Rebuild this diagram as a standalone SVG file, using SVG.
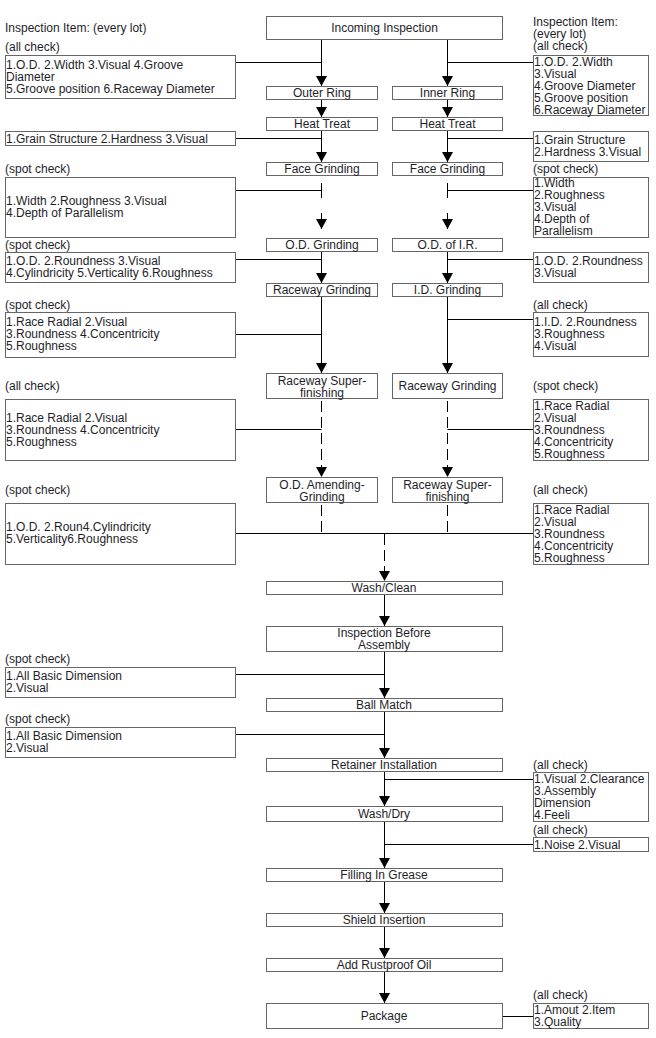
<svg xmlns="http://www.w3.org/2000/svg" width="656" height="1038" viewBox="0 0 656 1038">
<style>
.bx{fill:#fff;stroke:#666;stroke-width:1}
.t{font-family:"Liberation Sans",Arial,sans-serif;font-size:12px;fill:#1e1e2a}
.c{text-anchor:middle}
.ln{stroke:#000;stroke-width:1;fill:none}
.ds{stroke-dasharray:11 5}
</style>
<defs>
<marker id="ah" markerUnits="userSpaceOnUse" markerWidth="10" markerHeight="11" viewBox="0 0 10 11" refX="10" refY="5.5" orient="auto">
<path d="M0,0 L10,5.5 L0,11 Z" fill="#000"/>
</marker>
</defs>
<rect width="656" height="1038" fill="#fff"/>

<g id="connectors">
<!-- left column -->
<path class="ln" d="M321.5,39 V86" marker-end="url(#ah)"/>
<path class="ln" d="M235,62.5 H321.5"/>
<path class="ln" d="M321.5,99 V117" marker-end="url(#ah)"/>
<path class="ln" d="M321.5,130 V162" marker-end="url(#ah)"/>
<path class="ln" d="M235,138.5 H321.5"/>
<path class="ln" d="M321.5,183 V198"/>
<path class="ln" d="M235,190.5 H321.5"/>
<path class="ln" d="M321.5,213 V229" marker-end="url(#ah)"/>
<path class="ln" d="M321.5,251 V283" marker-end="url(#ah)"/>
<path class="ln" d="M235,259.5 H321.5"/>
<path class="ln" d="M321.5,296 V373" marker-end="url(#ah)"/>
<path class="ln" d="M235,334.5 H321.5"/>
<path class="ln ds" d="M321.5,398 V477" style="stroke-dashoffset:13" marker-end="url(#ah)"/>
<path class="ln" d="M235,429.5 H321.5"/>
<path class="ln ds" d="M321.5,502 V533" style="stroke-dashoffset:13"/>
<!-- right column -->
<path class="ln" d="M447.5,39 V86" marker-end="url(#ah)"/>
<path class="ln" d="M447.5,62.5 H533"/>
<path class="ln" d="M447.5,99 V117" marker-end="url(#ah)"/>
<path class="ln" d="M447.5,130 V162" marker-end="url(#ah)"/>
<path class="ln" d="M447.5,138.5 H533"/>
<path class="ln" d="M447.5,183 V198"/>
<path class="ln" d="M447.5,190.5 H533"/>
<path class="ln" d="M447.5,213 V229" marker-end="url(#ah)"/>
<path class="ln" d="M447.5,251 V283" marker-end="url(#ah)"/>
<path class="ln" d="M447.5,259.5 H533"/>
<path class="ln" d="M447.5,296 V373" marker-end="url(#ah)"/>
<path class="ln" d="M447.5,319.5 H533"/>
<path class="ln ds" d="M447.5,398 V477" style="stroke-dashoffset:13" marker-end="url(#ah)"/>
<path class="ln" d="M447.5,429.5 H533"/>
<path class="ln ds" d="M447.5,502 V533" style="stroke-dashoffset:13"/>
<!-- merge -->
<path class="ln" d="M235,533.5 H533"/>
<path class="ln ds" d="M384.5,534 V581" style="stroke-dashoffset:0" marker-end="url(#ah)"/>
<path class="ln" d="M384.5,594 V626" marker-end="url(#ah)"/>
<path class="ln" d="M384.5,651 V698" marker-end="url(#ah)"/>
<path class="ln" d="M235,674.5 H384.5"/>
<path class="ln" d="M384.5,711 V758" marker-end="url(#ah)"/>
<path class="ln" d="M235,734.5 H384.5"/>
<path class="ln" d="M384.5,771 V806" marker-end="url(#ah)"/>
<path class="ln" d="M384.5,779.5 H533"/>
<path class="ln" d="M384.5,821 V868" marker-end="url(#ah)"/>
<path class="ln" d="M384.5,844.5 H533"/>
<path class="ln" d="M384.5,881 V913" marker-end="url(#ah)"/>
<path class="ln" d="M384.5,926 V958" marker-end="url(#ah)"/>
<path class="ln" d="M384.5,971 V1003" marker-end="url(#ah)"/>
<path class="ln" d="M502,1016.5 H533"/>
</g>

<!-- process nodes -->
<g id="incoming"><rect class="bx" x="266.5" y="16.5" width="236" height="23"/><text class="t c" x="384.5" y="32">Incoming Inspection</text></g>
<g id="outer-ring"><rect class="bx" x="266.5" y="86.5" width="111" height="13"/><text class="t c" x="322" y="97">Outer Ring</text></g>
<g id="inner-ring"><rect class="bx" x="392.5" y="86.5" width="110" height="13"/><text class="t c" x="447.5" y="97">Inner Ring</text></g>
<g id="heat-treat-l"><rect class="bx" x="266.5" y="117.5" width="111" height="13"/><text class="t c" x="322" y="128">Heat Treat</text></g>
<g id="heat-treat-r"><rect class="bx" x="392.5" y="117.5" width="110" height="13"/><text class="t c" x="447.5" y="128">Heat Treat</text></g>
<g id="face-grinding-l"><rect class="bx" x="266.5" y="162.5" width="111" height="13"/><text class="t c" x="322" y="173">Face Grinding</text></g>
<g id="face-grinding-r"><rect class="bx" x="392.5" y="162.5" width="110" height="13"/><text class="t c" x="447.5" y="173">Face Grinding</text></g>
<g id="od-grinding"><rect class="bx" x="266.5" y="238.5" width="111" height="13"/><text class="t c" x="322" y="249">O.D. Grinding</text></g>
<g id="od-of-ir"><rect class="bx" x="392.5" y="238.5" width="110" height="13"/><text class="t c" x="447.5" y="249">O.D. of I.R.</text></g>
<g id="raceway-grinding-l"><rect class="bx" x="266.5" y="283.5" width="111" height="13"/><text class="t c" x="322" y="294">Raceway Grinding</text></g>
<g id="id-grinding"><rect class="bx" x="392.5" y="283.5" width="110" height="13"/><text class="t c" x="447.5" y="294">I.D. Grinding</text></g>
<g id="raceway-super-l"><rect class="bx" x="266.5" y="373.5" width="111" height="25"/><text class="t c" x="322" y="384.5">Raceway Super-</text><text class="t c" x="322" y="396.5">finishing</text></g>
<g id="raceway-grinding-r"><rect class="bx" x="392.5" y="373.5" width="110" height="25"/><text class="t c" x="447.5" y="390">Raceway Grinding</text></g>
<g id="od-amending"><rect class="bx" x="266.5" y="477.5" width="111" height="25"/><text class="t c" x="322" y="488.5">O.D. Amending-</text><text class="t c" x="322" y="500.5">Grinding</text></g>
<g id="raceway-super-r"><rect class="bx" x="392.5" y="477.5" width="110" height="25"/><text class="t c" x="447.5" y="488.5">Raceway Super-</text><text class="t c" x="447.5" y="500.5">finishing</text></g>
<g id="wash-clean"><rect class="bx" x="266.5" y="581.5" width="236" height="13"/><text class="t c" x="384" y="592">Wash/Clean</text></g>
<g id="inspection-before"><rect class="bx" x="266.5" y="626.5" width="236" height="25"/><text class="t c" x="384" y="637">Inspection Before</text><text class="t c" x="384" y="649">Assembly</text></g>
<g id="ball-match"><rect class="bx" x="266.5" y="698.5" width="236" height="13"/><text class="t c" x="384" y="709">Ball Match</text></g>
<g id="retainer"><rect class="bx" x="266.5" y="758.5" width="236" height="13"/><text class="t c" x="384" y="769">Retainer Installation</text></g>
<g id="wash-dry"><rect class="bx" x="266.5" y="806.5" width="236" height="15"/><text class="t c" x="384" y="818">Wash/Dry</text></g>
<g id="filling"><rect class="bx" x="266.5" y="868.5" width="236" height="13"/><text class="t c" x="384" y="879">Filling In Grease</text></g>
<g id="shield"><rect class="bx" x="266.5" y="913.5" width="236" height="13"/><text class="t c" x="384" y="924">Shield Insertion</text></g>
<g id="rustproof"><rect class="bx" x="266.5" y="958.5" width="236" height="13"/><text class="t c" x="384" y="969">Add Rustproof Oil</text></g>
<g id="package"><rect class="bx" x="266.5" y="1003.5" width="236" height="25"/><text class="t c" x="384" y="1020">Package</text></g>

<!-- left inspection items -->
<g id="left-header"><text class="t" x="5" y="31.5">Inspection Item: (every lot)</text></g>
<g id="l1"><text class="t" x="5" y="51">(all check)</text><rect class="bx" x="5.5" y="55.5" width="230" height="43"/><text class="t" x="6" y="69">1.O.D. 2.Width 3.Visual 4.Groove</text><text class="t" x="6" y="81">Diameter</text><text class="t" x="6" y="93">5.Groove position 6.Raceway Diameter</text></g>
<g id="l2"><rect class="bx" x="5.5" y="131.5" width="230" height="14"/><text class="t" x="6" y="142.5">1.Grain Structure 2.Hardness 3.Visual</text></g>
<g id="l3"><text class="t" x="5" y="172.5">(spot check)</text><rect class="bx" x="5.5" y="177.5" width="230" height="60"/><text class="t" x="6" y="205">1.Width 2.Roughness 3.Visual</text><text class="t" x="6" y="217">4.Depth of Parallelism</text></g>
<g id="l4"><text class="t" x="5" y="249">(spot check)</text><rect class="bx" x="5.5" y="252.5" width="230" height="30"/><text class="t" x="6" y="265">1.O.D. 2.Roundness 3.Visual</text><text class="t" x="6" y="277">4.Cylindricity 5.Verticality 6.Roughness</text></g>
<g id="l5"><text class="t" x="5" y="308.5">(spot check)</text><rect class="bx" x="5.5" y="312.5" width="230" height="45"/><text class="t" x="6" y="326">1.Race Radial 2.Visual</text><text class="t" x="6" y="338">3.Roundness 4.Concentricity</text><text class="t" x="6" y="350">5.Roughness</text></g>
<g id="l6"><text class="t" x="5" y="390">(all check)</text><rect class="bx" x="5.5" y="399.5" width="230" height="61"/><text class="t" x="6" y="422">1.Race Radial 2.Visual</text><text class="t" x="6" y="434">3.Roundness 4.Concentricity</text><text class="t" x="6" y="446">5.Roughness</text></g>
<g id="l7"><text class="t" x="5" y="493.5">(spot check)</text><rect class="bx" x="5.5" y="503.5" width="230" height="61"/><text class="t" x="6" y="531">1.O.D. 2.Roun4.Cylindricity</text><text class="t" x="6" y="543">5.Verticality6.Roughness</text></g>
<g id="l8"><text class="t" x="5" y="663">(spot check)</text><rect class="bx" x="5.5" y="667.5" width="230" height="30"/><text class="t" x="6" y="680">1.All Basic Dimension</text><text class="t" x="6" y="692">2.Visual</text></g>
<g id="l9"><text class="t" x="5" y="723">(spot check)</text><rect class="bx" x="5.5" y="727.5" width="230" height="30"/><text class="t" x="6" y="740">1.All Basic Dimension</text><text class="t" x="6" y="752">2.Visual</text></g>

<!-- right inspection items -->
<g id="right-header"><text class="t" x="533" y="26">Inspection Item:</text><text class="t" x="533" y="38">(every lot)</text></g>
<g id="r1"><text class="t" x="533" y="50">(all check)</text><rect class="bx" x="533.5" y="55.5" width="115" height="60"/><text class="t" x="534" y="66">1.O.D. 2.Width</text><text class="t" x="534" y="78">3.Visual</text><text class="t" x="534" y="90">4.Groove Diameter</text><text class="t" x="534" y="102">5.Groove position</text><text class="t" x="534" y="114">6.Raceway Diameter</text></g>
<g id="r2"><rect class="bx" x="533.5" y="131.5" width="115" height="30"/><text class="t" x="534" y="144">1.Grain Structure</text><text class="t" x="534" y="156">2.Hardness 3.Visual</text></g>
<g id="r3"><text class="t" x="533" y="173">(spot check)</text><rect class="bx" x="533.5" y="177.5" width="115" height="60"/><text class="t" x="534" y="187">1.Width</text><text class="t" x="534" y="199">2.Roughness</text><text class="t" x="534" y="211">3.Visual</text><text class="t" x="534" y="223">4.Depth of</text><text class="t" x="534" y="235">Parallelism</text></g>
<g id="r4"><rect class="bx" x="533.5" y="252.5" width="115" height="30"/><text class="t" x="534" y="265">1.O.D. 2.Roundness</text><text class="t" x="534" y="277">3.Visual</text></g>
<g id="r5"><text class="t" x="533" y="308.5">(all check)</text><rect class="bx" x="533.5" y="312.5" width="115" height="44"/><text class="t" x="534" y="326">1.I.D. 2.Roundness</text><text class="t" x="534" y="338">3.Roughness</text><text class="t" x="534" y="350">4.Visual</text></g>
<g id="r6"><text class="t" x="533" y="390">(spot check)</text><rect class="bx" x="533.5" y="399.5" width="115" height="61"/><text class="t" x="534" y="410">1.Race Radial</text><text class="t" x="534" y="422">2.Visual</text><text class="t" x="534" y="434">3.Roundness</text><text class="t" x="534" y="446">4.Concentricity</text><text class="t" x="534" y="458">5.Roughness</text></g>
<g id="r7"><text class="t" x="533" y="493.5">(all check)</text><rect class="bx" x="533.5" y="503.5" width="115" height="61"/><text class="t" x="534" y="514">1.Race Radial</text><text class="t" x="534" y="526">2.Visual</text><text class="t" x="534" y="538">3.Roundness</text><text class="t" x="534" y="550">4.Concentricity</text><text class="t" x="534" y="562">5.Roughness</text></g>
<g id="r8"><text class="t" x="533" y="768.5">(all check)</text><rect class="bx" x="533.5" y="772.5" width="115" height="49"/><text class="t" x="534" y="782.5">1.Visual 2.Clearance</text><text class="t" x="534" y="794.5">3.Assembly</text><text class="t" x="534" y="806.5">Dimension</text><text class="t" x="534" y="818.5">4.Feeli</text></g>
<g id="r9"><text class="t" x="533" y="833.5">(all check)</text><rect class="bx" x="533.5" y="837.5" width="115" height="14"/><text class="t" x="534" y="848.5">1.Noise 2.Visual</text></g>
<g id="r10"><text class="t" x="533" y="998.5">(all check)</text><rect class="bx" x="533.5" y="1003.5" width="115" height="25"/><text class="t" x="534" y="1014">1.Amout 2.Item</text><text class="t" x="534" y="1026">3.Quality</text></g>
</svg>
